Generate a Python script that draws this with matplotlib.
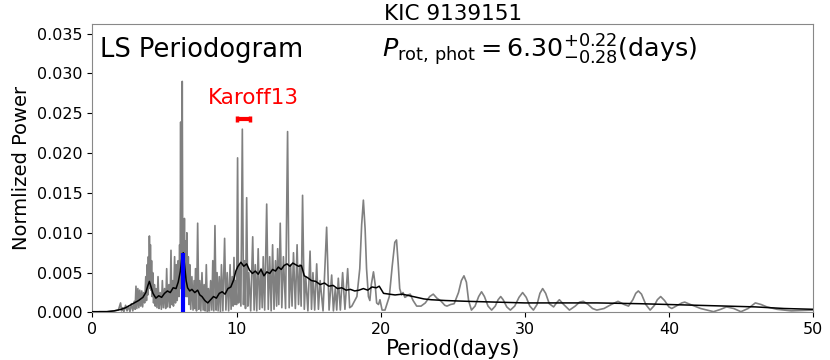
import matplotlib
matplotlib.use("Agg")
import matplotlib.pyplot as plt

# ---------------- data ----------------
title = "KIC 9139151"
p_rot = 6.30
p_rot_err_plus = 0.22
p_rot_err_minus = 0.28
karoff_period = 10.45
karoff_err = 0.45
karoff_level = 0.0243

# LS periodogram (gray), short-period part, periods in days
ls_period_short = [
    0.0, 0.5, 1.0, 1.5, 1.8, 1.95, 2.02, 2.1, 2.18, 2.3, 2.4, 2.5, 2.6, 2.7, 2.8, 2.9,
    2.96, 3.02, 3.08, 3.15, 3.22, 3.28, 3.35, 3.42, 3.48, 3.55, 3.62, 3.7, 3.75, 3.8,
    3.84, 3.88, 3.92, 3.95, 3.99, 4.02, 4.06, 4.1, 4.14, 4.18, 4.24, 4.3, 4.36, 4.4,
    4.48, 4.55, 4.62, 4.7, 4.78, 4.85, 4.92, 5.0, 5.08, 5.15, 5.22, 5.3, 5.38, 5.45,
    5.5, 5.55, 5.62, 5.7, 5.76, 5.82, 5.88, 5.95, 6.0, 6.05, 6.08, 6.12, 6.15, 6.18,
    6.2, 6.23, 6.27, 6.3, 6.34, 6.38, 6.42, 6.45, 6.5, 6.55, 6.6, 6.65, 6.7, 6.75,
    6.82, 6.9, 6.98, 7.05, 7.1, 7.15, 7.22, 7.3, 7.38, 7.45, 7.52, 7.6, 7.68, 7.75,
    7.82, 7.9, 7.98, 8.05, 8.12, 8.2, 8.28, 8.35, 8.42, 8.5, 8.58, 8.65, 8.72, 8.8,
    8.88, 8.95, 9.05, 9.17, 9.26, 9.35, 9.45, 9.55, 9.62, 9.7, 9.76, 9.82, 9.88, 9.95,
    10.0, 10.07, 10.14, 10.2, 10.3, 10.4, 10.48, 10.55, 10.62, 10.7, 10.78, 10.85,
    10.98, 11.12, 11.22, 11.3, 11.4, 11.5, 11.6, 11.7, 11.78, 11.85, 11.95, 12.09,
    12.2, 12.3, 12.4, 12.5, 12.6, 12.7, 12.78, 12.85, 12.93, 13.03, 13.14, 13.25,
    13.4, 13.54, 13.65, 13.75, 13.85, 13.95, 14.08, 14.2, 14.3, 14.4, 14.48, 14.58,
    14.7, 14.8, 14.95, 15.1, 15.2, 15.3, 15.42, 15.56, 15.68, 15.8, 16.0, 16.25,
    16.42, 16.6, 16.72, 16.85, 16.95, 17.06, 17.2, 17.36, 17.52, 17.71, 17.85,
]
ls_power_short = [
    0.0, 0.0001, 0.0001, 0.0002, 0.0003, 0.0012, 0.0002, 0.0006, 0.0001, 0.0009, 0.0002, 0.0008, 0.0001, 0.0011, 0.0002, 0.0014,
    0.0004, 0.0033, 0.0005, 0.0030, 0.0006, 0.0028, 0.0008, 0.0027, 0.0007, 0.0025, 0.0012, 0.0045, 0.0015, 0.0060,
    0.0022, 0.0070, 0.0030, 0.0096, 0.0035, 0.0085, 0.0028, 0.0065, 0.0020, 0.0050, 0.0012, 0.0035, 0.0008, 0.0030,
    0.0006, 0.0045, 0.0005, 0.0025, 0.0004, 0.0040, 0.0006, 0.0030, 0.0005, 0.0055, 0.0007, 0.0035, 0.0006, 0.0078,
    0.0010, 0.0040, 0.0008, 0.0070, 0.0012, 0.0060, 0.0015, 0.0065, 0.0020, 0.0085, 0.0030, 0.0239, 0.0040, 0.0100,
    0.0030, 0.0290, 0.0040, 0.0115, 0.0040, 0.0118, 0.0030, 0.0090, 0.0020, 0.0100, 0.0020, 0.0070, 0.0010, 0.0060,
    0.0004, 0.0045, 0.0003, 0.0040, 0.0005, 0.0055, 0.0002, 0.0112, 0.0004, 0.0040, 0.0002, 0.0050, 0.0003, 0.0035,
    0.0002, 0.0060, 0.0001, 0.0030, 0.0002, 0.0040, 0.0003, 0.0065, 0.0002, 0.0109, 0.0003, 0.0050, 0.0002, 0.0045,
    0.0001, 0.0060, 0.0002, 0.0093, 0.0003, 0.0050, 0.0002, 0.0060, 0.0004, 0.0045, 0.0008, 0.0069, 0.0010, 0.0040,
    0.0010, 0.0194, 0.0012, 0.0060, 0.0008, 0.0230, 0.0010, 0.0065, 0.0005, 0.0144, 0.0008, 0.0050,
    0.0002, 0.0095, 0.0003, 0.0060, 0.0002, 0.0080, 0.0004, 0.0055, 0.0006, 0.0070, 0.0003, 0.0136,
    0.0004, 0.0070, 0.0002, 0.0085, 0.0004, 0.0065, 0.0008, 0.0080, 0.0010, 0.0112, 0.0006, 0.0070,
    0.0005, 0.0227, 0.0006, 0.0060, 0.0008, 0.0075, 0.0005, 0.0085, 0.0010, 0.0060, 0.0008, 0.0147,
    0.0004, 0.0045, 0.0002, 0.0077, 0.0004, 0.0050, 0.0003, 0.0061, 0.0004, 0.0040, 0.0002, 0.0107,
    0.0003, 0.0047, 0.0002, 0.0030, 0.0003, 0.0043, 0.0003, 0.0050, 0.0004, 0.0055, 0.0006,
]

# LS periodogram (gray), long-period part
ls_period_long = [
    18.0, 18.35, 18.55, 18.68, 18.8, 18.92, 19.02, 19.15, 19.25, 19.35, 19.5, 19.62,
    19.72, 19.85, 19.95, 20.1, 20.3, 20.6, 20.8, 20.98, 21.1, 21.22, 21.32, 21.45,
    21.55, 21.68, 21.78, 21.9, 22.05, 22.25, 22.5, 22.8, 23.1, 23.4, 23.65, 23.9,
    24.2, 24.45, 24.6, 24.85, 25.1, 25.4, 25.6, 25.78, 25.95, 26.1, 26.3, 26.55,
    26.8, 27.0, 27.2, 27.45, 27.7, 27.95, 28.15, 28.33, 28.5, 28.75, 29.0, 29.3,
    29.6, 29.85, 30.1, 30.35, 30.6, 30.85, 31.05, 31.24, 31.45, 31.7, 32.0, 32.2,
    32.4, 32.7, 33.1, 33.5, 33.8, 34.06, 34.4, 34.7, 35.0, 35.5, 36.0, 36.47,
    36.9, 37.2, 37.5, 37.7, 37.88, 38.1, 38.4, 38.7, 39.0, 39.2, 39.43, 39.7,
    40.0, 40.2, 40.6, 40.9, 41.1, 41.5, 42.2, 43.1, 43.6, 44.0, 44.5, 45.0,
    45.5, 46.0, 46.4, 46.8, 47.5, 48.5, 50.0,
]
ls_power_long = [
    0.0008, 0.0020, 0.0055, 0.0110, 0.0141, 0.0105, 0.0055, 0.0020, 0.0015, 0.0035, 0.0051, 0.0035,
    0.0012, 0.0010, 0.0016, 0.0003, 0.0003, 0.0020, 0.0058, 0.0088, 0.0091, 0.0060, 0.0030, 0.0022,
    0.0025, 0.0019, 0.0020, 0.0022, 0.0023, 0.0015, 0.0008, 0.0008, 0.0012, 0.0020, 0.0023, 0.0018,
    0.0014, 0.0009, 0.0008, 0.0010, 0.0011, 0.0025, 0.0040, 0.0046, 0.0038, 0.0015, 0.0003, 0.0008,
    0.0020, 0.0026, 0.0020, 0.0008, 0.0003, 0.0008, 0.0016, 0.0020, 0.0016, 0.0007, 0.0003, 0.0008,
    0.0019, 0.0025, 0.0019, 0.0008, 0.0003, 0.0010, 0.0024, 0.0030, 0.0024, 0.0011, 0.0007, 0.0012,
    0.0016, 0.0010, 0.0003, 0.0008, 0.0013, 0.0014, 0.0010, 0.0005, 0.0003, 0.0005, 0.0010, 0.0014,
    0.0010, 0.0008, 0.0016, 0.0024, 0.0027, 0.0023, 0.0010, 0.0003, 0.0009, 0.0016, 0.0020, 0.0015,
    0.0007, 0.0005, 0.0009, 0.0012, 0.0013, 0.0010, 0.0005, 0.0001, 0.0004, 0.0007, 0.0005, 0.0001,
    0.0005, 0.0012, 0.0010, 0.0007, 0.0004, 0.0002, 0.0003,
]

# smoothed periodogram (black)
smooth_period = [
    0.0, 1.0, 1.5, 2.0, 2.3, 2.6, 2.9, 3.2, 3.5, 3.7, 3.85, 3.95, 4.05, 4.2, 4.4, 4.6,
    4.8, 5.0, 5.2, 5.4, 5.6, 5.8, 5.95, 6.1, 6.2, 6.3, 6.4, 6.5, 6.6, 6.75, 6.9, 7.1,
    7.3, 7.45, 7.6, 7.8, 8.0, 8.2, 8.4, 8.6, 8.8, 9.0, 9.2, 9.4, 9.6, 9.8, 9.95, 10.1,
    10.3, 10.5, 10.7, 10.9, 11.1, 11.3, 11.5, 11.7, 11.9, 12.1, 12.3, 12.5, 12.7, 12.9,
    13.1, 13.3, 13.5, 13.7, 13.9, 14.1, 14.3, 14.5, 14.7, 14.9, 15.2, 15.5, 15.8, 16.1,
    16.4, 16.7, 17.0, 17.3, 17.6, 17.9, 18.2, 18.5, 18.8, 19.1, 19.4, 19.7, 19.9, 20.2,
    20.6, 21.0, 21.5, 22.0, 22.5, 23.0, 23.5, 24.5, 26.0, 28.0, 30.0, 32.0, 35.0, 38.0,
    40.0, 42.0, 44.0, 46.0, 48.0, 50.0,
]
smooth_power = [
    0.0001, 0.0001, 0.0002, 0.0004, 0.0006, 0.0009, 0.0012, 0.0015, 0.0019, 0.0025, 0.0034, 0.0039, 0.0033, 0.0024, 0.0018, 0.0021,
    0.0019, 0.0024, 0.0027, 0.0025, 0.0031, 0.0030, 0.0038, 0.0052, 0.0068, 0.0075, 0.0058, 0.0040, 0.0031, 0.0027, 0.0029, 0.0025,
    0.0028, 0.0022, 0.0020, 0.0015, 0.0012, 0.0016, 0.0020, 0.0018, 0.0024, 0.0026, 0.0023, 0.0030, 0.0032, 0.0041, 0.0052, 0.0058,
    0.0063, 0.0058, 0.0061, 0.0053, 0.0049, 0.0052, 0.0048, 0.0054, 0.0046, 0.0051, 0.0049, 0.0054, 0.0052, 0.0057,
    0.0054, 0.0059, 0.0061, 0.0058, 0.0062, 0.0060, 0.0058, 0.0059, 0.0046, 0.0044, 0.0040, 0.0039, 0.0035, 0.0037,
    0.0033, 0.0034, 0.0030, 0.0031, 0.0028, 0.0029, 0.0027, 0.0028, 0.0030, 0.0028, 0.0032, 0.0031, 0.0033, 0.0024,
    0.0023, 0.0022, 0.0023, 0.0021, 0.0019, 0.0017, 0.0016, 0.0015, 0.0014, 0.0013, 0.0012, 0.0012, 0.0012, 0.0011,
    0.0010, 0.0009, 0.0008, 0.0007, 0.0005, 0.0004,
]
smooth_peak_power = 0.0075

# ---------------- figure ----------------
fig = plt.figure(figsize=(8.3, 3.6), dpi=100)
ax = fig.add_axes([0.1114, 0.132, 0.8681, 0.8013])

ax.plot(ls_period_short + ls_period_long, ls_power_short + ls_power_long,
        color="#808080", lw=1.2, zorder=2)
ax.plot(smooth_period, smooth_power, color="black", lw=1.1, zorder=3)
ax.vlines(p_rot, 0, smooth_peak_power, color="blue", lw=3, zorder=4)

ax.errorbar(karoff_period, karoff_level, xerr=karoff_err, color="red",
            elinewidth=3, capsize=2.5, capthick=2.5, fmt="none", zorder=5)
ax.text(karoff_period + 0.7, 0.0269, "Karoff13", color="red", fontsize=15.5,
        ha="center", va="center")

ax.text(0.010, 0.91, "LS Periodogram", transform=ax.transAxes, fontsize=18.5,
        ha="left", va="center")
ax.text(0.402, 0.91,
        r"$P_{\rm rot,\,phot} = %.2f^{+%.2f}_{-%.2f}$(days)" % (p_rot, p_rot_err_plus, p_rot_err_minus),
        transform=ax.transAxes, fontsize=18.3, ha="left", va="center")

ax.set_xlim(0, 50)
ax.set_ylim(0, 0.0362)
ax.set_yticks([0.0, 0.005, 0.010, 0.015, 0.020, 0.025, 0.030, 0.035])
ax.set_yticklabels(["0.000", "0.005", "0.010", "0.015", "0.020", "0.025", "0.030", "0.035"])
ax.set_xticks([0, 10, 20, 30, 40, 50])
ax.tick_params(labelsize=11.5)
for s in ax.spines.values():
    s.set_color("#888888")

ax.set_title(title, fontsize=15.5, pad=3)
ax.set_xlabel("Period(days)", fontsize=15.5, labelpad=1)
ax.set_ylabel("Normlized Power", fontsize=14, labelpad=4)

fig.savefig("out.png", dpi=100)
